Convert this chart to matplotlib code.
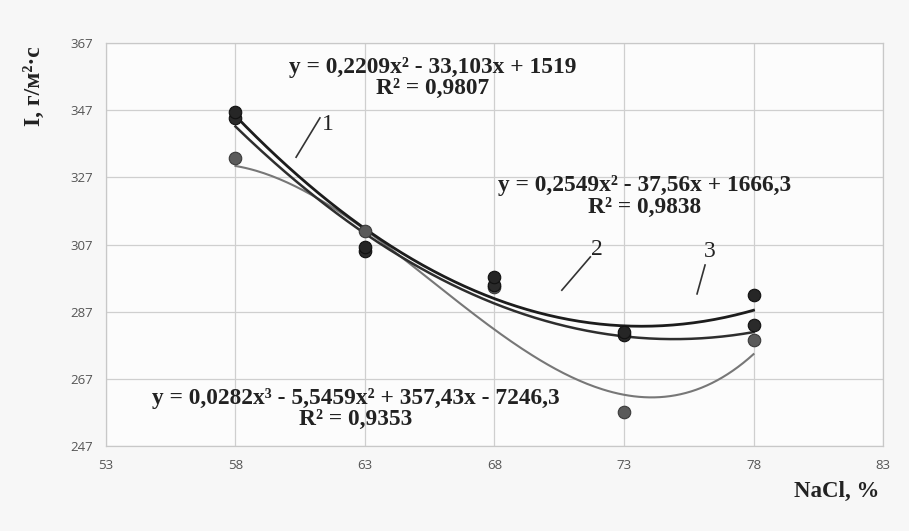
import numpy as np
import matplotlib
matplotlib.use("Agg")
import matplotlib.pyplot as plt

# NaCl concentration, %
nacl = [58, 63, 68, 73, 78]

# measured intensity I, g/(m2*s)
series_2 = [344.7, 305.0, 295.0, 280.0, 283.0]
series_3 = [346.4, 306.2, 297.3, 281.0, 292.0]
series_1 = [332.8, 311.0, 294.5, 257.1, 278.6]

# trend line coefficients (highest power first)
coef_2 = [0.2209, -33.103, 1519]
coef_3 = [0.2549, -37.56, 1666.3]
coef_1 = [0.0282, -5.5459, 357.43, -7246.3]

label_2 = "y = 0,2209x² - 33,103x + 1519\nR² = 0,9807"
label_3 = "y = 0,2549x² - 37,56x + 1666,3\nR² = 0,9838"
label_1 = "y = 0,0282x³ - 5,5459x² + 357,43x - 7246,3\nR² = 0,9353"

x_ticks = [53, 58, 63, 68, 73, 78, 83]
y_ticks = [247, 267, 287, 307, 327, 347, 367]

dpi = 100
fig = plt.figure(figsize=(909 / dpi, 531 / dpi), dpi=dpi, facecolor="#f7f7f7")
ax = fig.add_axes([0.1166, 0.160, 0.8548, 0.759])
ax.set_facecolor("#fcfcfc")

xs = np.linspace(58, 78, 200)
ax.plot(xs, np.polyval(coef_1, xs), color="#777777", lw=1.5, zorder=3)
ax.plot(xs, np.polyval(coef_2, xs), color="#2e2e2e", lw=1.8, zorder=4)
ax.plot(xs, np.polyval(coef_3, xs), color="#1c1c1c", lw=2.0, zorder=4)

ax.plot(nacl, series_1, "o", ms=9, color="#5a5a5a", mec="#3a3a3a", mew=0.8, zorder=5)
ax.plot(nacl, series_2, "o", ms=9, color="#2a2a2a", mec="#111111", mew=0.8, zorder=5)
ax.plot(nacl, series_3, "o", ms=9, color="#262626", mec="#111111", mew=0.8, zorder=5)

ax.set_xlim(53, 83)
ax.set_ylim(247, 367)
ax.set_xticks(x_ticks)
ax.set_yticks(y_ticks)
ax.grid(True, color="#cfcfcf", lw=0.9)
ax.set_axisbelow(True)
for s in ax.spines.values():
    s.set_color("#c8c8c8")
    s.set_linewidth(0.9)
ax.tick_params(length=0, labelsize=9.5, labelcolor="#555555", pad=9)
for t in ax.get_xticklabels() + ax.get_yticklabels():
    t.set_family("Open Sans")

serif = "Liberation Serif"
eq_kw = dict(family=serif, fontweight="bold", fontsize=16.8, color="#222222",
             ha="center", va="center", linespacing=1.0, zorder=6)
ax.text(65.6, 356.7, label_2, **eq_kw)
ax.text(73.8, 321.3, label_3, **eq_kw)
ax.text(62.65, 258.0, label_1, **eq_kw)

# curve numbers with leader lines
num_kw = dict(family=serif, fontsize=17, color="#222222", ha="center", va="center")
ax.plot([60.34, 61.26], [333.0, 344.7], color="#333333", lw=1.2)
ax.text(61.55, 342.6, "1", **num_kw)
ax.plot([70.6, 71.7], [293.4, 303.3], color="#333333", lw=1.2)
ax.text(71.95, 305.6, "2", **num_kw)
ax.plot([75.82, 76.13], [292.3, 300.9], color="#333333", lw=1.2)
ax.text(76.3, 305.0, "3", **num_kw)

fig.text(0.038, 0.838, "I, г/м²·с", family=serif, fontweight="bold", fontsize=17,
         rotation=90, ha="center", va="center", color="#222222")
fig.text(0.920, 0.074, "NaCl, %", family=serif, fontweight="bold", fontsize=16.5,
         ha="center", va="center", color="#222222")

fig.savefig("out.png", dpi=dpi, facecolor=fig.get_facecolor())
